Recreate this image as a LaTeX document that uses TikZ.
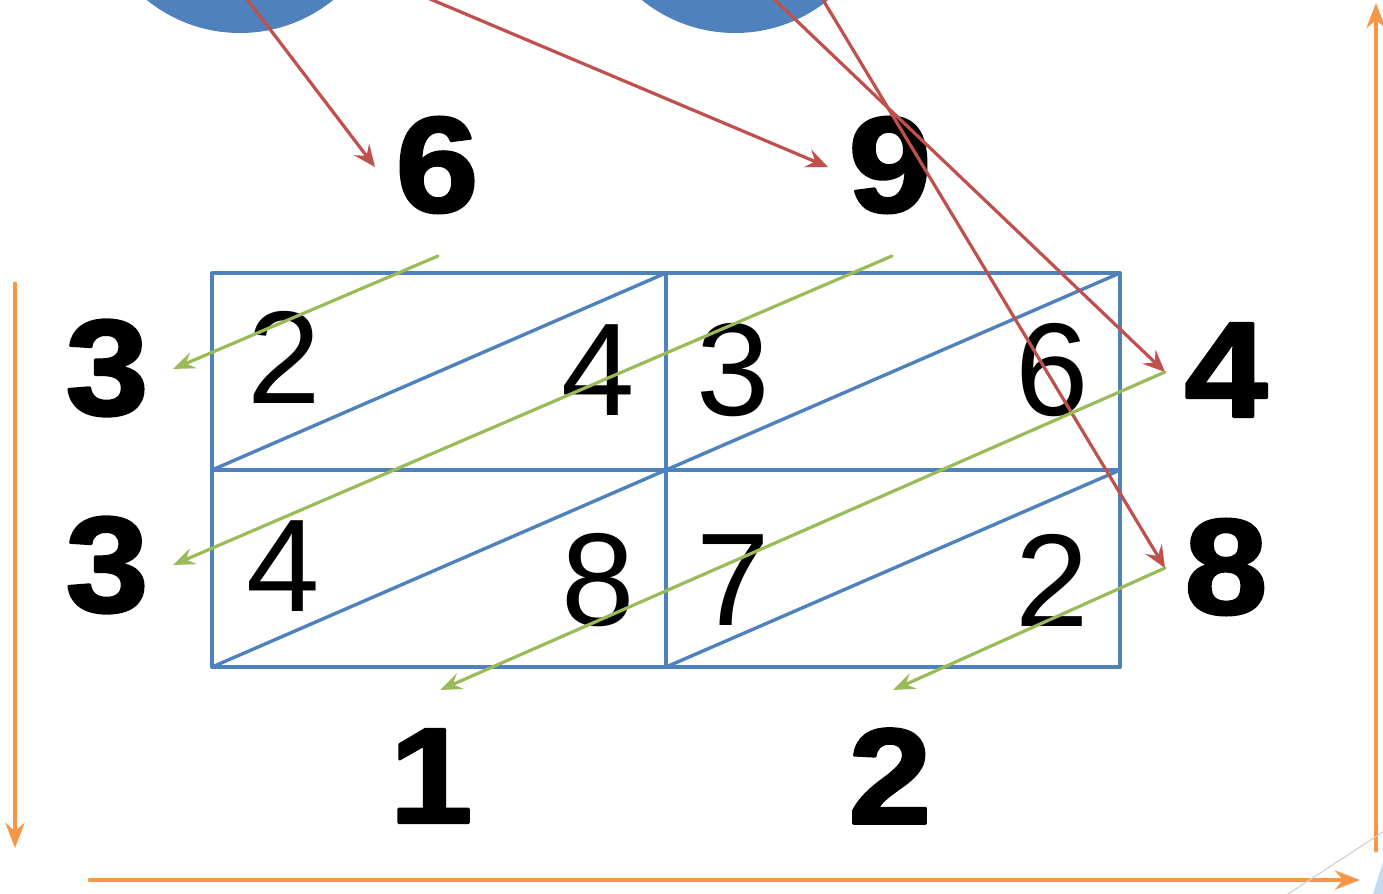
\documentclass[tikz,border=0pt]{standalone}
\usepackage{fontspec}
\setmainfont{Liberation Sans}
\newfontfamily\heavyFont[FakeBold=2,FakeStretch=1.1]{Liberation Sans}
\usetikzlibrary{arrows.meta}

\definecolor{officeBlue}{HTML}{4F81BD}
\definecolor{officeRed}{HTML}{C0504D}
\definecolor{officeGreen}{HTML}{9BBB59}
\definecolor{officeOrange}{HTML}{F79646}
\definecolor{paleBlue}{HTML}{C6D9F1}

\begin{document}
\begin{tikzpicture}[x=0.5pt, y=-0.5pt, line cap=round, line join=round]

% ---------- styles ----------
\tikzset{
  gridLine/.style    ={draw=officeBlue, line width=1.7pt},
  disc/.style        ={circle, fill=officeBlue, inner sep=0pt, minimum size=148pt},
  redArrow/.style    ={draw=officeRed, line width=1.6pt,
                       -{Stealth[length=11pt, width=9.5pt, inset=4pt]}},
  greenArrow/.style  ={draw=officeGreen, line width=1.6pt,
                       -{Stealth[length=11pt, width=8.5pt, inset=4pt]}},
  orangeArrow/.style ={draw=officeOrange, line width=2.4pt,
                       -{Stealth[length=12.5pt, width=9.5pt, inset=4pt]}},
  cellDigit/.style   ={inner sep=0pt, font=\fontsize{66}{66}\selectfont},
  bigDigit/.style    ={inner sep=0pt, font=\heavyFont\bfseries\fontsize{68}{68}\selectfont}
}

% ---------- page frame ----------
\useasboundingbox (0,0) rectangle (1383,894);
\clip (0,0) rectangle (1383,894);

% ---------- discs (cut off at the top) ----------
\node[disc] (discA) at (240,-115) {};
\node[disc] (discB) at (735,-115) {};

% ---------- lattice ----------
\foreach \gy in {273,470,667}
  \draw[gridLine] (212,\gy) -- (1120,\gy);
\foreach \gx in {212,666,1120}
  \draw[gridLine] (\gx,273) -- (\gx,667);
\foreach \gx in {212,666}
  \foreach \gy in {470,667}
    \draw[gridLine] (\gx,\gy) -- (\gx+454,\gy-197);

% cell digits
\foreach \nm/\px/\py/\dg in {cA/284/357/2, cB/598/370/4, cC/733/370/3, cD/1052/370/6,
                             cE/283/566/4, cF/598/580/8, cG/733/580/7, cH/1052/580/2}
  \node[cellDigit] (\nm) at (\px,\py) {\dg};

% ---------- factors and result ----------
\node[bigDigit] (topSix)   at (437,165) {6};
\node[bigDigit] (topNine)  at (890,165) {9};
\node[bigDigit] (leftUp)   at (107,368) {3};
\node[bigDigit] (leftDown) at (107,565) {3};
\node[bigDigit] (rightUp)  at (1226,370) {4};
\node[bigDigit] (rightDown) at (1226,567) {8};
\node[bigDigit] (botOne)   at (431,776) {1};
\node[bigDigit] (botTwo)   at (890,776) {2};

% ---------- red arrows from the discs ----------
\coordinate (srcA)  at (160,-115);
\coordinate (srcB1) at (733,-40);
\coordinate (srcB2) at (799,-40);
\coordinate (tipSix)  at (375,167);
\coordinate (tipNine) at (828,167);
\coordinate (tipFour) at (1165,372);
\coordinate (tipEight) at (1165,568);

\draw[redArrow] (srcA)  -- (tipSix);
\draw[redArrow] (srcA)  -- (tipNine);
\draw[redArrow] (srcB1) -- (tipFour);
\draw[redArrow] (srcB2) -- (tipEight);

% ---------- green arrows along the diagonals ----------
\coordinate (gSixFoot)  at (438,256);
\coordinate (gNineFoot) at (892,256);
\coordinate (gLeftUp)   at (173,369);
\coordinate (gLeftDown) at (173,565);
\coordinate (gBotOne)   at (440,690);
\coordinate (gBotTwo)   at (893,690);

\draw[greenArrow] (gSixFoot)  -- (gLeftUp);
\draw[greenArrow] (gNineFoot) -- (gLeftDown);
\draw[greenArrow] (tipFour)   -- (gBotOne);
\draw[greenArrow] (tipEight)  -- (gBotTwo);

% ---------- orange reading order ----------
\coordinate (oLeftTop)  at (15,284);
\coordinate (oLeftBot)  at (15,848);
\coordinate (oBotLeft)  at (90,880);
\coordinate (oBotRight) at (1360,880);
\coordinate (oRightBot) at (1376,850);
\coordinate (oRightTop) at (1376,3);

\draw[orangeArrow] (oLeftTop)  -- (oLeftBot);
\draw[orangeArrow] (oBotLeft)  -- (oBotRight);
\draw[orangeArrow] (oRightBot) -- (oRightTop);

% corner remnants
\draw[gray!35, line width=0.6pt] (1288,894) -- (1383,832);
\fill[paleBlue] (1383,862) -- (1373,894) -- (1383,894) -- cycle;

\end{tikzpicture}
\end{document}
